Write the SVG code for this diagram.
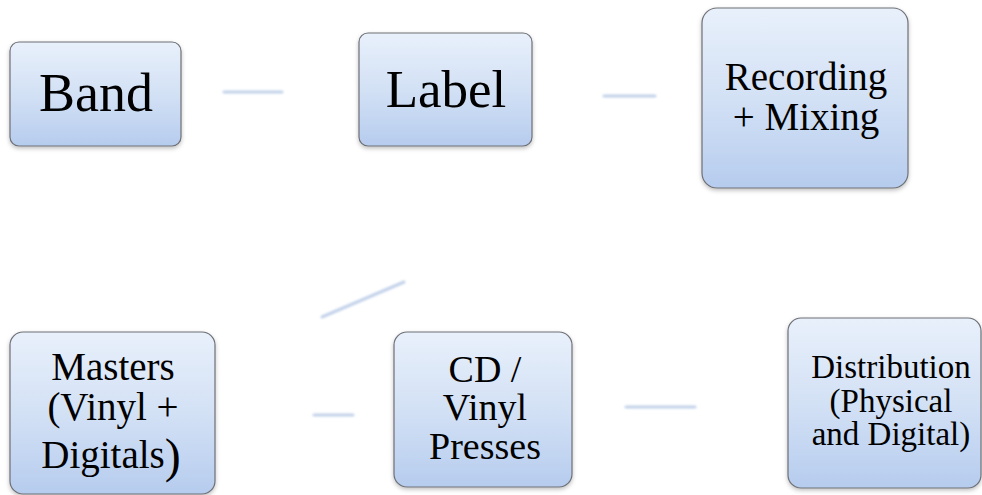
<svg xmlns="http://www.w3.org/2000/svg" width="982" height="495" viewBox="0 0 982 495">
<defs>
<linearGradient id="g" x1="0" y1="0" x2="0" y2="1">
<stop offset="0" stop-color="#e8f0fb"/>
<stop offset="0.5" stop-color="#d3e1f5"/>
<stop offset="1" stop-color="#b6ccee"/>
</linearGradient>
<filter id="sh" x="-10%" y="-10%" width="120%" height="120%">
<feDropShadow dx="0" dy="2" stdDeviation="2" flood-color="#000" flood-opacity="0.25"/>
</filter>
<filter id="blur" filterUnits="userSpaceOnUse" x="0" y="0" width="982" height="495">
<feGaussianBlur stdDeviation="0.8"/>
</filter>
</defs>
<style>
.box{fill:url(#g);stroke:#6e7076;stroke-width:1.2;filter:url(#sh)}
.t{font-family:"Liberation Serif","Times New Roman",serif;fill:#000;text-anchor:middle}
.c{stroke:#c2d1ea;stroke-width:3;stroke-linecap:round;fill:none;filter:url(#blur)}
</style>
<rect width="982" height="495" fill="#fff"/>
<g id="connectors">
<line class="c" x1="224" y1="92" x2="282" y2="92"/>
<line class="c" x1="604" y1="96" x2="655" y2="96"/>
<line class="c" x1="322" y1="317" x2="404" y2="282"/>
<line class="c" x1="314" y1="415" x2="353" y2="415" stroke="#d2d6de"/>
<line class="c" x1="626" y1="407" x2="695" y2="407"/>
</g>
<g id="band">
<rect class="box" x="10" y="42" width="171" height="104" rx="9"/>
<text class="t" x="96" y="111" font-size="54">Band</text>
</g>
<g id="label">
<rect class="box" x="359" y="33" width="173" height="113" rx="9"/>
<text class="t" x="446" y="107" font-size="53">Label</text>
</g>
<g id="recording">
<rect class="box" x="702" y="8" width="206" height="180" rx="15"/>
<text class="t" x="806" y="90" font-size="39">Recording</text>
<text class="t" x="806" y="130" font-size="39">+ Mixing</text>
</g>
<g id="masters">
<rect class="box" x="10" y="332" width="205" height="162" rx="13"/>
<text class="t" x="113" y="380" font-size="39">Masters</text>
<text class="t" x="113" y="420" font-size="39">(Vinyl +</text>
<text class="t" x="111" y="468" font-size="39">Digitals<tspan font-size="48" dy="4">)</tspan></text>
</g>
<g id="cd">
<rect class="box" x="394" y="332" width="178" height="155" rx="13"/>
<text class="t" x="485" y="382" font-size="38">CD /</text>
<text class="t" x="485" y="420" font-size="38">Vinyl</text>
<text class="t" x="485" y="459" font-size="38">Presses</text>
</g>
<g id="distribution">
<rect class="box" x="788" y="318" width="193" height="170" rx="13"/>
<text class="t" x="891" y="378" font-size="33">Distribution</text>
<text class="t" x="891" y="412" font-size="33">(Physical</text>
<text class="t" x="891" y="445" font-size="33">and Digital)</text>
</g>
</svg>
